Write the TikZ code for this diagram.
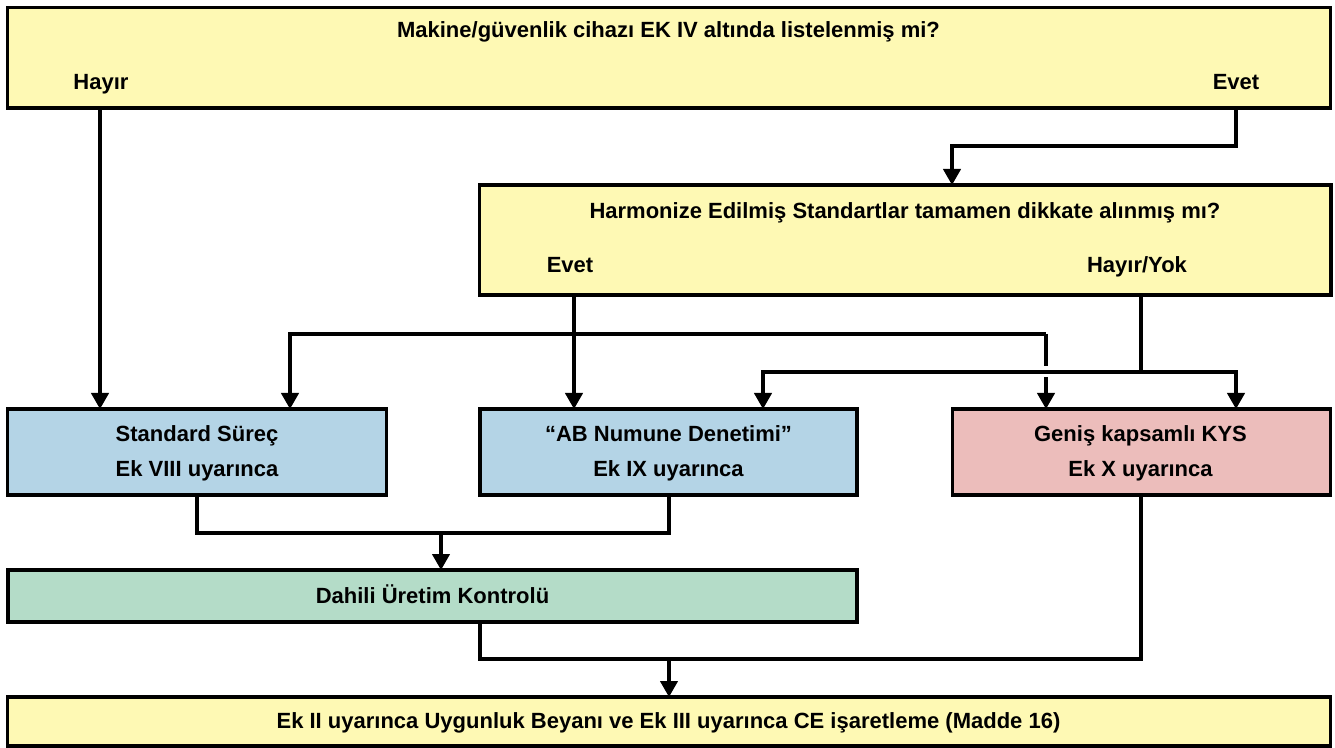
\documentclass[tikz,border=0pt]{standalone}
\usepackage{fontspec}
\setmainfont{Liberation Sans}
\usetikzlibrary{arrows.meta}
\definecolor{cyel}{RGB}{254,249,180}
\definecolor{cblue}{RGB}{180,212,230}
\definecolor{cpink}{RGB}{236,189,187}
\definecolor{cgreen}{RGB}{180,220,200}
\begin{document}
\begin{tikzpicture}[x=0.75pt,y=-0.75pt,
  box/.style={draw=black,line width=2.6pt,inner sep=0pt,outer sep=0pt},
  lbl/.style={font=\fontsize{16.5}{19}\selectfont\bfseries,anchor=base,inner sep=0pt},
  conn/.style={line width=2.4pt},
  arr/.style={line width=2.4pt,-{Triangle[width=13pt,length=12pt]}}]
\useasboundingbox (0,0) rectangle (1335,748);
% boxes
\node[box,fill=cyel,minimum width=992.25pt,minimum height=75.4pt] (top) at (669,57.75) {};
\node[box,fill=cyel,minimum width=638.6pt,minimum height=82.5pt] (harm) at (905.25,240) {};
\node[box,fill=cblue,minimum width=284pt,minimum height=64.5pt] (std) at (197,452) {};
\node[box,fill=cblue,minimum width=283pt,minimum height=64.5pt] (ab) at (668.5,452) {};
\node[box,fill=cpink,minimum width=283.5pt,minimum height=64.5pt] (genis) at (1141.5,452) {};
\node[box,fill=cgreen,minimum width=637pt,minimum height=39pt] (dah) at (432.5,596) {};
\node[box,fill=cyel,minimum width=992.25pt,minimum height=36.75pt] (son) at (669,721.5) {};
% labels
\node[lbl] (tq) at (668.5,38) {Makine/güvenlik cihazı EK IV altında listelenmiş mi?};
\node[lbl] (hayir) at (101,90) {Hayır};
\node[lbl] (evet) at (1236,90) {Evet};
\node[lbl] (hq) at (905,218.5) {Harmonize Edilmiş Standartlar tamamen dikkate alınmış mı?};
\node[lbl] (evet2) at (570,272.5) {Evet};
\node[lbl] (hy) at (1137,272.5) {Hayır/Yok};
\node[lbl] (s1) at (197,441.5) {Standard Süreç};
\node[lbl] (s2) at (197,476) {Ek VIII uyarınca};
\node[lbl] (a1) at (668.5,441.5) {“AB Numune Denetimi”};
\node[lbl] (a2) at (668.5,476) {Ek IX uyarınca};
\node[lbl] (g1) at (1140.5,441.5) {Geniş kapsamlı KYS};
\node[lbl] (g2) at (1140.5,476) {Ek X uyarınca};
\node[lbl] (d1) at (432.5,603.5) {Dahili Üretim Kontrolü};
\node[lbl] (b1) at (668.5,728) {Ek II uyarınca Uygunluk Beyanı ve Ek III uyarınca CE işaretleme (Madde 16)};
% coordinates
\coordinate (xh) at (100,0);
\coordinate (xe) at (1236,0);
\coordinate (j1) at (952,146);
\coordinate (xe2) at (574,0);
\coordinate (c1) at (1046,334);
\coordinate (c2) at (290,334);
\coordinate (hop1) at (1046,366);
\coordinate (hop2) at (1046,377.5);
\coordinate (xhy) at (1141,0);
\coordinate (k1) at (763,372);
\coordinate (k2) at (1236,372);
\coordinate (xs) at (197,0);
\coordinate (xa) at (669,0);
\coordinate (m1) at (441,533);
\coordinate (xd) at (480,0);
\coordinate (m2) at (669,659);
% connectors
\draw[arr] (top.south -| xh) -- (std.north -| xh);
\draw[arr] (top.south -| xe) |- (j1) -- (harm.north -| j1);
\draw[arr] (harm.south -| xe2) -- (ab.north -| xe2);
\draw[arr] (c1) -| (std.north -| c2);
\draw[conn] (c1) -- (hop1);
\draw[arr] (hop2) -- (genis.north -| c1);
\draw[conn] (harm.south -| xhy) -- (xhy |- k1);
\draw[arr] (xhy |- k1) -| (ab.north -| k1);
\draw[arr] (xhy |- k1) -| (genis.north -| k2);
\draw[conn] (std.south -| xs) |- (m1) -| (ab.south -| xa);
\draw[arr] (m1) -- (dah.north -| m1);
\draw[conn] (dah.south -| xd) |- (m2) -| (genis.south -| xhy);
\draw[arr] (m2) -- (son.north -| m2);
\end{tikzpicture}
\end{document}
